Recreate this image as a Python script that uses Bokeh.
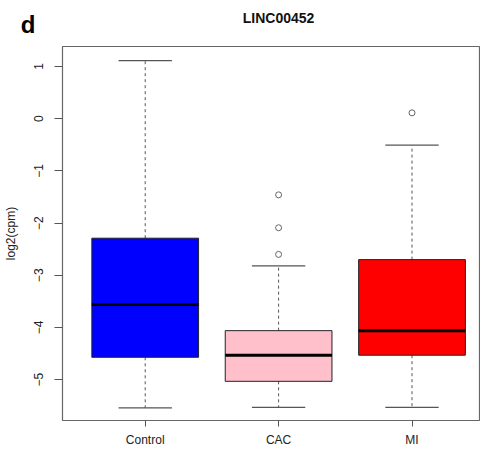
import numpy as np
from bokeh.plotting import figure
from bokeh.layouts import column
from bokeh.models import Label, FixedTicker, Range1d
from bokeh.embed import file_html
from bokeh.resources import INLINE

# ---- data ----
groups = ["Control", "CAC", "MI"]
lower_whisker = [-5.54, -5.53, -5.53]
q1 = [-4.57, -5.03, -4.53]
median = [-3.56, -4.53, -4.06]
q3 = [-2.29, -4.06, -2.70]
upper_whisker = [1.11, -2.82, -0.51]
outlier_group = [2, 2, 2, 3]
outlier_value = [-2.60, -2.09, -1.46, 0.11]
box_colors = ["#0000FF", "#FFC0CB", "#FF0000"]
y_ticks = [-5, -4, -3, -2, -1, 0, 1]
y_tick_labels = ["\u22125", "\u22124", "\u22123", "\u22122", "\u22121", "0", "1"]
title_text = "LINC00452"
panel_text = "d"
y_label_text = "log2(cpm)"

pos = np.arange(1, len(groups) + 1)
box_w = 0.8
cap_w = 0.4
FONT = "Liberation Sans"
LINE = "#555555"
W = 480
HEAD_H = 40
MAIN_H = 409
X_RANGE = (0.38, 3.506)

# ---- header strip with panel letter and title ----
head = figure(width=W, height=HEAD_H, x_range=Range1d(*X_RANGE),
              y_range=Range1d(0, HEAD_H), output_backend="svg",
              toolbar_location=None, x_axis_type=None,
              min_border_left=62, min_border_right=1, min_border_top=0,
              min_border_bottom=0)
head.outline_line_color = None
head.xgrid.visible = False
head.ygrid.visible = False
# panel letter "d" drawn as the single tick label of the header's left axis
head.yaxis.ticker = FixedTicker(ticks=[16.5])
head.yaxis.major_label_overrides = {16.5: panel_text}
head.yaxis.major_label_orientation = "horizontal"
head.yaxis.major_label_text_font = FONT
head.yaxis.major_label_text_font_size = "24px"
head.yaxis.major_label_text_font_style = "bold"
head.yaxis.major_label_text_color = "#000000"
head.yaxis.major_label_standoff = 27
head.yaxis.major_tick_out = 0
head.yaxis.major_tick_in = 0
head.yaxis.minor_tick_line_color = None
head.yaxis.major_tick_line_color = None
head.yaxis.axis_line_color = None
head.add_layout(Label(x=2.0, y=23, text=title_text, text_font=FONT,
                      text_font_size="14px", text_font_style="bold",
                      text_align="center", text_baseline="alphabetic",
                      text_color="#111111"))

# ---- main box plot ----
p = figure(width=W, height=MAIN_H, x_range=Range1d(*X_RANGE),
           y_range=Range1d(-5.78, 1.38), output_backend="svg",
           toolbar_location=None, min_border_left=62, min_border_right=1,
           min_border_top=6, min_border_bottom=28)
p.xgrid.visible = False
p.ygrid.visible = False
p.outline_line_color = "#666666"
p.outline_line_width = 1.2

# whiskers (dashed)
p.segment(x0=pos, x1=pos, y0=q3, y1=upper_whisker, line_color=LINE,
          line_width=1, line_dash="3 3")
p.segment(x0=pos, x1=pos, y0=q1, y1=lower_whisker, line_color=LINE,
          line_width=1, line_dash="3 3")
# caps
p.segment(x0=pos - cap_w / 2, x1=pos + cap_w / 2, y0=upper_whisker,
          y1=upper_whisker, line_color=LINE, line_width=1.2)
p.segment(x0=pos - cap_w / 2, x1=pos + cap_w / 2, y0=lower_whisker,
          y1=lower_whisker, line_color=LINE, line_width=1.2)
# boxes
p.vbar(x=pos, width=box_w, bottom=q1, top=q3, fill_color=box_colors,
       line_color="#222222", line_width=1)
# medians
p.segment(x0=pos - box_w / 2, x1=pos + box_w / 2, y0=median, y1=median,
          line_color="#000000", line_width=3)
# outliers
p.scatter(x=outlier_group, y=outlier_value, marker="circle", size=6,
          fill_color=None, line_color="#666666", line_width=1)

# axes
p.xaxis.ticker = FixedTicker(ticks=list(pos))
p.xaxis.major_label_overrides = {int(i): g for i, g in zip(pos, groups)}
p.yaxis.ticker = FixedTicker(ticks=y_ticks)
p.yaxis.major_label_overrides = {t: s for t, s in zip(y_ticks, y_tick_labels)}
p.yaxis.major_label_orientation = "vertical"
for ax in (p.xaxis, p.yaxis):
    ax.axis_line_color = None
    ax.minor_tick_line_color = None
    ax.major_tick_in = 0
    ax.major_tick_line_color = LINE
    ax.major_label_text_font = FONT
    ax.major_label_text_font_size = "12px"
    ax.major_label_text_color = "#222222"
p.xaxis.major_tick_out = 6
p.xaxis.major_label_standoff = 6
p.yaxis.major_tick_out = 8
p.yaxis.major_label_standoff = 11
p.yaxis.axis_label = y_label_text
p.yaxis.axis_label_text_font = FONT
p.yaxis.axis_label_text_font_size = "12px"
p.yaxis.axis_label_text_font_style = "normal"
p.yaxis.axis_label_text_color = "#222222"
p.yaxis.axis_label_standoff = 14

layout = column(head, p, spacing=0)
open("out.html", "w").write(file_html(layout, INLINE))
